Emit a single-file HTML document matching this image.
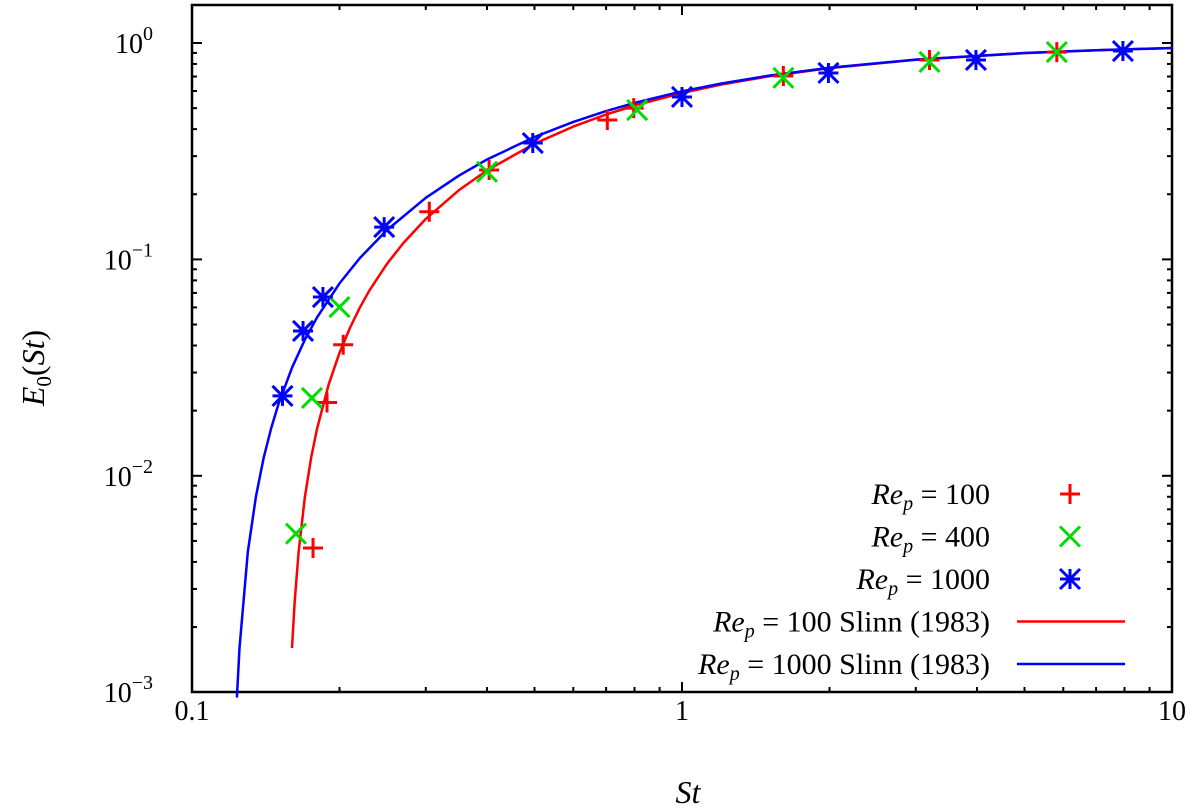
<!DOCTYPE html>
<html><head><meta charset="utf-8"><style>
html,body{margin:0;padding:0;background:#fff;}
svg{display:block;font-family:"Liberation Serif",serif;}
</style></head><body>
<svg id="chart" width="1200" height="811" viewBox="0 0 1200 811" xmlns="http://www.w3.org/2000/svg">
<g id="axes"></g>
<g id="curves"></g>
<g id="points"></g>
<g id="legend"></g>
<text x="688" y="803" font-size="32" font-style="italic" text-anchor="middle">St</text>
<text transform="translate(44,368) rotate(-90)" font-size="32" text-anchor="middle"><tspan font-style="italic">E</tspan><tspan font-size="21" dy="7">0</tspan><tspan dy="-7">(</tspan><tspan font-style="italic">St</tspan>)</text>
</svg>
<script>
const xTicks = [0.1, 1, 10];
const xTickLabels = ["0.1", "1", "10"];
const yTickExps = [0, -1, -2, -3];
const redSt = [0.16,0.162,0.165,0.17,0.175,0.18,0.19,0.2,0.21,0.22,0.23,0.25,0.27,0.3,0.35,0.4,0.5,0.6,0.7,0.8,1,1.2,1.5,2,3,5,7,10];
const redE = [0.0016,0.00263,0.00444,0.008,0.0121,0.01655,0.02637,0.037,0.0482,0.0598,0.0716,0.0954,0.1191,0.1538,0.2083,0.2577,0.3424,0.411,0.4673,0.5142,0.5872,0.6415,0.7007,0.7654,0.8364,0.898,0.926,0.9475];
const blueSt = [0.1235,0.125,0.13,0.135,0.14,0.145,0.15,0.16,0.17,0.18,0.2,0.22,0.25,0.3,0.35,0.4,0.5,0.6,0.7,0.8,1,1.2,1.5,2,3,5,7,10];
const blueE = [0.000944,0.0016,0.00444,0.008,0.01207,0.01655,0.02133,0.0316,0.0426,0.054,0.0775,0.1014,0.1367,0.1925,0.2434,0.2894,0.368,0.432,0.4847,0.5287,0.598,0.6495,0.7063,0.769,0.838,0.8987,0.9264,0.9477];
const re100St = [0.1766,0.1886,0.2035,0.305,0.404,0.704,0.797,1.61,3.2,5.82];
const re100E = [0.00464,0.0218,0.0403,0.166,0.259,0.441,0.50,0.704,0.835,0.908];
const re400St = [0.163,0.1757,0.2,0.4,0.81,1.61,3.2,5.82];
const re400E = [0.0054,0.0229,0.0602,0.254,0.49,0.69,0.817,0.908];
const re1000St = [0.153,0.1685,0.185,0.2467,0.496,1.0,1.99,3.98,7.94];
const re1000E = [0.0234,0.0467,0.067,0.141,0.345,0.563,0.727,0.835,0.918];

const NS="http://www.w3.org/2000/svg";
const L=192,R=1172,T=5,B=692;
const X=v=>L+490*(Math.log10(v)+1);
const Y=v=>43-216.4*Math.log10(v);
function mk(tag,attrs,parent){const e=document.createElementNS(NS,tag);for(const k in attrs)e.setAttribute(k,attrs[k]);parent.appendChild(e);return e;}
const axes=document.getElementById('axes');
const frame=mk('rect',{x:L,y:T,width:R-L,height:B-T,fill:'none',stroke:'#000','stroke-width':2.5},axes);


for(let d=-1;d<1;d++){for(let m=1;m<10;m++){const v=m*Math.pow(10,d);const x=X(v);const len=m===1?10:5;
mk('line',{x1:x,y1:B,x2:x,y2:B-len,stroke:'#000','stroke-width':2},axes);
mk('line',{x1:x,y1:T,x2:x,y2:T+len,stroke:'#000','stroke-width':2},axes);}}
xTicks.forEach((v,i)=>{const t=mk('text',{x:X(v),y:720,'font-size':28,'text-anchor':'middle'},axes);t.textContent=xTickLabels[i];

});
for(let d=-3;d<=0;d++){for(let m=1;m<10;m++){const v=m*Math.pow(10,d);const y=Y(v);if(y<T||y>B)continue;const len=m===1?10:5;
mk('line',{x1:L,y1:y,x2:L+len,y2:y,stroke:'#000','stroke-width':2},axes);
mk('line',{x1:R,y1:y,x2:R-len,y2:y,stroke:'#000','stroke-width':2},axes);}}
yTickExps.forEach(e=>{const t=mk('text',{x:153,y:Y(Math.pow(10,e))+10,'font-size':28,'text-anchor':'end'},axes);


t.textContent='10';const s=mk('tspan',{dy:-13,'font-size':20},t);s.textContent=String(e).replace('-','\u2212');});
const curves=document.getElementById('curves');
function curve(xs,ys,col,name){const p=mk('path',{d:xs.map((x,i)=>(i?'L':'M')+X(x).toFixed(1)+','+Y(ys[i]).toFixed(1)).join(''),fill:'none',stroke:col,'stroke-width':2.5,'stroke-linejoin':'round'},curves);

}
curve(redSt,redE,'#f00','slinn-re100-curve');
curve(blueSt,blueE,'#00f','slinn-re1000-curve');
const pts=document.getElementById('points');
const s=10;
function plus(x,y,c,g){mk('path',{d:`M${x-s},${y}H${x+s}M${x},${y-s}V${y+s}`,stroke:c,'stroke-width':3,fill:'none'},g);}
function cross(x,y,c,g){mk('path',{d:`M${x-s},${y-s}L${x+s},${y+s}M${x-s},${y+s}L${x+s},${y-s}`,stroke:c,'stroke-width':3,fill:'none'},g);}
function star(x,y,c,g){plus(x,y,c,g);cross(x,y,c,g);}
function series(xs,ys,fn,c,name){const g=mk('g',{},pts);


xs.forEach((v,i)=>fn(X(v),Y(ys[i]),c,g));}
series(re100St,re100E,plus,'#f00','re100-points');
series(re400St,re400E,cross,'#0d0','re400-points');
series(re1000St,re1000E,star,'#00f','re1000-points');
const lg=document.getElementById('legend');
const rows=[['100',plus,'#f00',''],['400',cross,'#0d0',''],['1000',star,'#00f',''],['100','line','#f00',' Slinn (1983)'],['1000','line','#00f',' Slinn (1983)']];
rows.forEach((r,i)=>{const y=494+42.5*i;const g=mk('g',{},lg);


const t=mk('text',{x:990,y:y+10,'font-size':30,'text-anchor':'end'},g);
t.innerHTML=`<tspan font-style="italic">Re</tspan><tspan font-style="italic" font-size="20" dy="6">p</tspan><tspan dy="-6"> = ${r[0]}${r[3]}</tspan>`;
if(r[1]==='line')mk('line',{x1:1017,y1:y,x2:1125,y2:y,stroke:r[2],'stroke-width':2.5},g);else r[1](1070,y,r[2],g);});
</script>
</body></html>
